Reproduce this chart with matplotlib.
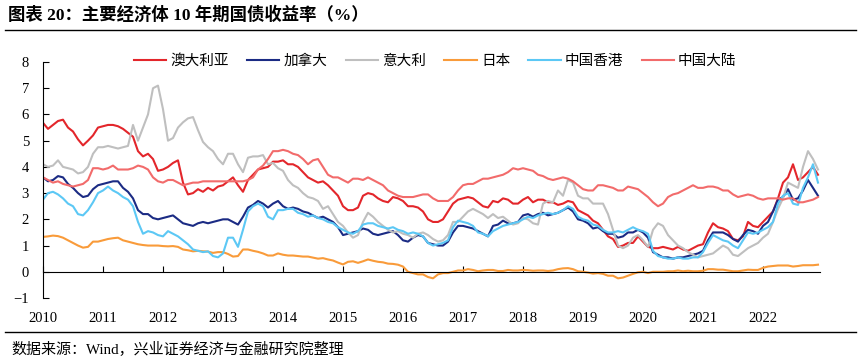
import numpy as np
import matplotlib
matplotlib.use("Agg")
from matplotlib import pyplot as plt
from matplotlib.lines import Line2D

plt.rcParams["font.family"] = ["Liberation Serif", "Noto Sans CJK SC"]

# monthly 10y yields, Jan 2010 - Dec 2022 (%)
australia = [
    5.68, 5.45, 5.6, 5.75, 5.8, 5.5, 5.35, 5.05, 4.82, 5.0, 5.2, 5.5,
    5.55, 5.6, 5.6, 5.55, 5.45, 5.3, 5.15, 4.6, 4.4, 4.5, 4.3, 3.85,
    3.9, 4.0, 4.15, 4.25, 3.4, 2.95, 3.0, 3.15, 3.05, 3.2, 3.1, 3.25,
    3.3, 3.45, 3.6, 3.3, 3.05, 3.5, 3.7, 3.9, 3.95, 4.0, 4.2, 4.2,
    4.25, 4.1, 4.1, 4.0, 3.8, 3.6, 3.5, 3.4, 3.45, 3.3, 3.1, 2.9,
    2.5, 2.35, 2.35, 2.45, 2.9, 3.0, 2.95, 2.8, 2.7, 2.65, 2.85, 2.8,
    2.7, 2.5, 2.5, 2.45, 2.3, 2.0, 1.9, 1.9, 2.0, 2.3, 2.6, 2.75,
    2.8, 2.85, 2.8, 2.65, 2.5, 2.45, 2.7, 2.65, 2.8, 2.75, 2.6, 2.6,
    2.75, 2.85, 2.65, 2.75, 2.75, 2.65, 2.65, 2.55, 2.6, 2.7, 2.65, 2.35,
    2.25, 2.15, 1.95, 1.85, 1.6, 1.35, 1.25, 0.95, 1.0, 1.1, 1.1, 1.35,
    1.15, 0.95, 0.9, 0.9, 0.95, 0.9, 0.85, 0.95, 0.85, 0.8, 0.9, 1.0,
    1.05, 1.5, 1.85, 1.7, 1.65, 1.55, 1.25, 1.2, 1.35, 1.9, 1.75, 1.7,
    1.9, 2.1, 2.3, 2.8, 3.4, 3.6, 4.1, 3.5, 3.6, 3.8, 4.0, 3.7,
]
canada = [
    3.6, 3.45, 3.5, 3.65, 3.6, 3.35, 3.2, 3.0, 2.85, 2.9, 3.15, 3.3,
    3.35, 3.4, 3.45, 3.45, 3.2, 3.05, 2.8, 2.35, 2.2, 2.2, 2.05, 2.0,
    2.05, 2.1, 2.15, 2.0, 1.85, 1.8, 1.75, 1.85, 1.9, 1.85, 1.9, 1.95,
    2.0, 2.0, 1.9, 1.8, 2.1, 2.45, 2.55, 2.7, 2.6, 2.45, 2.6, 2.7,
    2.5, 2.4, 2.45, 2.4, 2.3, 2.25, 2.15, 2.05, 2.1, 2.0, 1.9, 1.7,
    1.4, 1.45, 1.5, 1.55, 1.65, 1.6, 1.45, 1.4, 1.45, 1.5, 1.55, 1.4,
    1.2, 1.15, 1.3, 1.4, 1.35, 1.1, 1.05, 1.0, 1.0, 1.15, 1.5, 1.75,
    1.75, 1.7, 1.65, 1.55, 1.45, 1.35, 1.75, 1.8, 1.95, 1.85, 1.85, 1.9,
    2.15, 2.2, 2.1, 2.2, 2.25, 2.15, 2.2, 2.25, 2.35, 2.45, 2.3, 2.0,
    1.95, 1.85, 1.65, 1.7, 1.55, 1.45, 1.45, 1.3, 1.35, 1.5, 1.5, 1.6,
    1.5, 1.3, 0.75, 0.65, 0.55, 0.55, 0.5, 0.55, 0.55, 0.6, 0.65, 0.7,
    0.8, 1.2, 1.5, 1.5, 1.5, 1.4, 1.25, 1.15, 1.4, 1.6, 1.55, 1.45,
    1.75, 1.9, 2.3, 2.75, 2.85, 3.15, 2.75, 2.8, 3.1, 3.5, 3.2, 2.9,
]
italy = [
    4.1, 4.0, 4.05, 4.25, 4.0, 3.95, 3.9, 3.75, 3.8, 4.0, 4.5, 4.75,
    4.75, 4.8, 4.75, 4.7, 4.75, 4.8, 5.6, 5.0, 5.5, 6.0, 7.0, 7.1,
    6.2, 5.0, 5.1, 5.5, 5.7, 5.85, 5.9, 5.4, 4.95, 4.75, 4.6, 4.3,
    4.1, 4.5, 4.5, 4.1, 3.8, 4.35, 4.4, 4.4, 4.45, 4.1, 4.15, 3.95,
    3.85, 3.5, 3.3, 3.2, 3.0, 2.85, 2.8, 2.7, 2.4, 2.5, 2.2, 1.9,
    1.75, 1.5, 1.3, 1.4, 1.9, 2.25, 2.1, 1.9, 1.75, 1.6, 1.5, 1.55,
    1.45, 1.4, 1.3, 1.45, 1.5, 1.4, 1.25, 1.15, 1.2, 1.4, 1.9, 1.9,
    2.1, 2.3, 2.4, 2.3, 2.2, 2.05, 2.2, 2.05, 2.1, 1.95, 1.8, 1.85,
    2.05, 2.0, 1.85, 1.8, 2.6, 2.7, 2.65, 3.1, 2.9, 3.5, 3.4, 2.9,
    2.8, 2.8, 2.6, 2.6, 2.6, 2.2, 1.6, 1.0, 0.9, 1.0, 1.3, 1.4,
    1.2, 0.95, 1.6, 1.85, 1.75, 1.4, 1.2, 1.0, 0.9, 0.75, 0.65, 0.55,
    0.6, 0.65, 0.7, 0.85, 1.0, 0.9, 0.65, 0.6, 0.75, 0.9, 1.0, 1.1,
    1.3, 1.45, 1.9, 2.4, 2.8, 3.4, 3.3, 3.2, 4.0, 4.6, 4.3, 3.9,
]
japan = [
    1.33, 1.35, 1.38, 1.36, 1.3, 1.2, 1.1, 1.0, 0.92, 0.95, 1.15, 1.15,
    1.2, 1.25, 1.28, 1.3, 1.2, 1.15, 1.1, 1.05, 1.02, 1.0, 1.0, 1.0,
    0.98, 0.97, 0.98, 0.95, 0.85, 0.82, 0.78, 0.8, 0.78, 0.77, 0.72, 0.75,
    0.75, 0.68, 0.58, 0.6, 0.85, 0.85, 0.8, 0.76, 0.7, 0.62, 0.62, 0.7,
    0.65, 0.62, 0.62, 0.6, 0.58, 0.58, 0.54, 0.5, 0.52, 0.47, 0.43, 0.35,
    0.28, 0.38, 0.4, 0.34, 0.4, 0.47, 0.42, 0.38, 0.36, 0.31, 0.3, 0.27,
    0.2, 0.0, -0.05, -0.1, -0.1, -0.2, -0.25, -0.1, -0.05, -0.05, 0.0, 0.05,
    0.05, 0.1, 0.07, 0.02, 0.05, 0.07, 0.07, 0.03, 0.03, 0.07, 0.05, 0.05,
    0.07, 0.06, 0.04, 0.05, 0.05, 0.03, 0.05, 0.1, 0.13, 0.14, 0.1, 0.02,
    0.0, -0.03, -0.07, -0.05, -0.08, -0.15, -0.15, -0.25, -0.22, -0.15, -0.08, -0.02,
    0.0, -0.05, 0.0, 0.0, 0.0, 0.02, 0.02, 0.05, 0.02, 0.04, 0.02, 0.02,
    0.04, 0.1, 0.1, 0.08, 0.08, 0.05, 0.02, 0.02, 0.05, 0.08, 0.07, 0.07,
    0.15, 0.2, 0.22, 0.24, 0.24, 0.24, 0.2, 0.22, 0.25, 0.25, 0.25, 0.27,
]
hongkong = [
    2.75, 3.0, 3.05, 2.95, 2.8, 2.6, 2.5, 2.2, 2.15, 2.35, 2.65, 3.0,
    3.1, 3.25, 3.1, 3.0, 2.85, 2.75, 2.5, 1.9, 1.45, 1.55, 1.5, 1.4,
    1.35, 1.55, 1.45, 1.35, 1.2, 1.05, 0.85, 0.8, 0.75, 0.78, 0.6, 0.55,
    0.7, 1.3, 1.3, 0.95, 1.6, 2.3, 2.5, 2.6, 2.5, 2.1, 2.0, 2.35,
    2.35, 2.4, 2.4, 2.25, 2.2, 2.1, 2.15, 2.05, 2.0, 1.9, 1.85, 1.7,
    1.6, 1.5, 1.45, 1.55, 1.8, 1.85, 1.85, 1.75, 1.7, 1.65, 1.7, 1.6,
    1.55, 1.45, 1.5, 1.45, 1.35, 1.1, 1.0, 1.05, 1.1, 1.2, 1.7, 1.95,
    1.9, 1.85, 1.75, 1.5, 1.45, 1.35, 1.55, 1.65, 1.75, 1.8, 1.85, 1.9,
    2.0, 2.1, 2.05, 2.15, 2.2, 2.25, 2.2, 2.25, 2.35, 2.5, 2.4, 2.1,
    2.0, 1.95, 1.8, 1.75, 1.6, 1.5, 1.5, 1.55, 1.5, 1.6, 1.7, 1.6,
    1.55, 1.45, 0.8, 0.6, 0.55, 0.5, 0.5, 0.55, 0.5, 0.5, 0.55, 0.55,
    0.75, 1.1, 1.4, 1.3, 1.2, 1.15, 1.0, 0.9, 1.2, 1.5, 1.45, 1.5,
    1.6, 1.7, 1.9, 2.6, 2.9, 3.0, 2.6, 2.55, 3.2, 3.6, 4.1, 3.4,
]
china = [
    3.6, 3.5, 3.4, 3.45, 3.35, 3.3, 3.25, 3.3, 3.35, 3.5, 3.95, 3.95,
    3.9, 3.95, 4.05, 3.9, 3.9, 3.9, 3.95, 4.05, 4.0, 3.9, 3.6, 3.45,
    3.4, 3.5, 3.5, 3.4, 3.3, 3.35, 3.4, 3.4, 3.45, 3.45, 3.45, 3.45,
    3.45, 3.45, 3.45, 3.45, 3.45, 3.5, 3.6, 3.9, 4.05, 4.3, 4.6, 4.6,
    4.65, 4.6, 4.5, 4.45, 4.3, 4.1, 4.25, 4.3, 4.0, 3.7, 3.6, 3.6,
    3.5, 3.4, 3.55, 3.55, 3.5, 3.6, 3.5, 3.4, 3.3, 3.1, 3.0, 2.9,
    2.85, 2.85, 2.85, 2.9, 2.95, 2.95, 2.8, 2.7, 2.7, 2.7, 2.85, 3.1,
    3.3, 3.35, 3.35, 3.45, 3.55, 3.55, 3.6, 3.65, 3.7, 3.8, 3.95, 3.9,
    3.95, 3.9, 3.85, 3.7, 3.65, 3.55, 3.5, 3.55, 3.6, 3.55, 3.45, 3.3,
    3.15, 3.1, 3.1, 3.3, 3.3, 3.25, 3.2, 3.1, 3.1, 3.25, 3.2, 3.15,
    3.0, 2.85, 2.65, 2.5, 2.6, 2.85, 2.95, 3.0, 3.1, 3.2, 3.3, 3.2,
    3.2, 3.25, 3.25, 3.2, 3.1, 3.1, 2.95, 2.85, 2.9, 2.95, 2.9, 2.8,
    2.75, 2.8, 2.8, 2.8, 2.75, 2.8, 2.8, 2.65, 2.65, 2.7, 2.75, 2.85,
]

names = ["澳大利亚", "加拿大", "意大利", "日本", "中国香港", "中国大陆"]
colors = ["#E3262B", "#1B2B84", "#BFBFBF", "#F99B3A", "#5CC8F5", "#F26B6B"]
years = list(range(2010, 2023))

t = 2010 + np.arange(len(australia)) / 12

fig = plt.figure(figsize=(8.63, 3.62), dpi=100)
ax = fig.add_axes([43 / 863, 1 - 298 / 362, 777 / 863, 236 / 362])

for y, name, c in zip([australia, canada, italy, japan, hongkong, china], names, colors):
    ax.plot(t, y, color=c, lw=1.5, label=name)

ax.set_xlim(2010, 2022.95)
ax.set_ylim(-1, 8)
ax.set_yticks(range(-1, 9))
ax.tick_params(axis="y", direction="in", length=4, labelsize=10.5, pad=10)
ax.spines["top"].set_visible(False)
ax.spines["right"].set_visible(False)
ax.spines["bottom"].set_position(("data", 0))
ax.set_xticks(years)
ax.tick_params(axis="x", direction="in", length=4, labelbottom=False)

sec = ax.secondary_xaxis("bottom")
sec.spines["bottom"].set_visible(False)
sec.set_xticks(years, [str(y) for y in years])
sec.tick_params(length=0, labelsize=10.5, pad=10)

ax.legend(loc="center", bbox_to_anchor=(0.505, 1.005), ncol=6, frameon=False,
          fontsize=10.5, handlelength=2.2, columnspacing=1.25, handletextpad=0.3)

fig.text(0.009, 1 - 15 / 362, "图表 20：主要经济体 10 年期国债收益率（%）",
         fontsize=12.5, fontweight="bold", va="center", ha="left")
fig.text(0.013, 1 - 349 / 362, "数据来源：Wind，兴业证券经济与金融研究院整理",
         fontsize=10.8, va="center", ha="left")
fig.add_artist(Line2D([0.006, 0.992], [1 - 30 / 362] * 2, color="black", lw=1))
fig.add_artist(Line2D([0.006, 0.992], [1 - 332 / 362] * 2, color="black", lw=1))

fig.savefig("out.png", dpi=100)
